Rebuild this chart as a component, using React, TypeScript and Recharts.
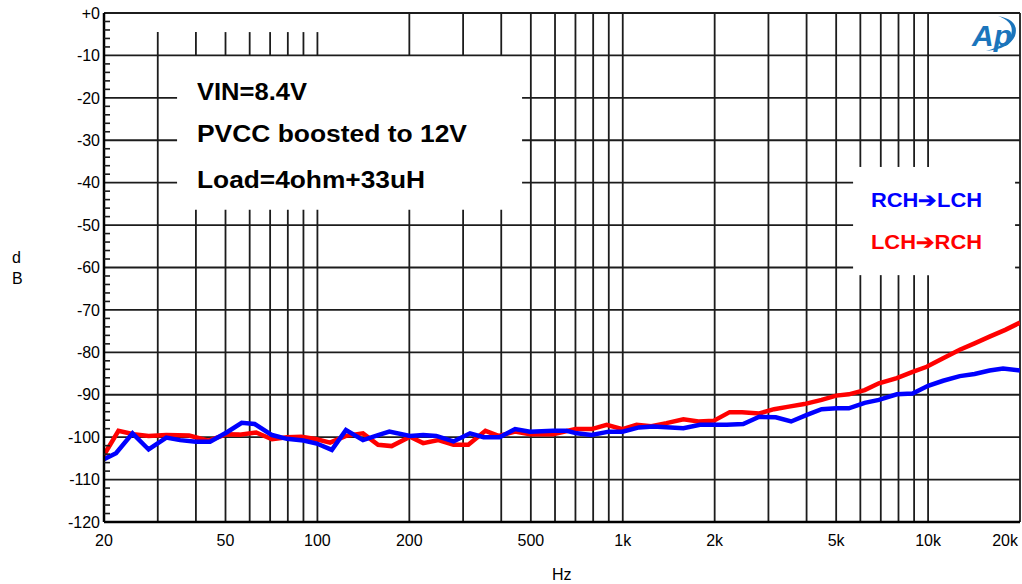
import React from 'react';
import { LineChart, Line, XAxis, YAxis, ReferenceLine } from 'recharts';

// ---------- data ----------
const redFreq = [20, 22.3, 25, 28, 32, 38, 44, 50.4, 55.6, 63, 71, 79.5, 88.6, 99.5, 110, 124, 141, 158, 175, 201, 222, 249, 279, 312, 355, 392, 444, 497, 592, 700, 791, 886, 998, 1110, 1240, 1390, 1580, 1770, 1990, 2240, 2460, 2800, 3130, 3500, 3930, 4480, 5000, 5500, 6200, 6900, 7900, 8900, 9900, 11200, 12700, 14200, 15900, 17900, 20000];
const redDb = [-104.2, -98.5, -99.3, -99.7, -99.5, -99.6, -100.8, -99.3, -99.4, -98.9, -100.5, -100.0, -99.9, -100.5, -101.3, -99.7, -99.1, -101.8, -102.1, -99.9, -101.4, -100.7, -101.8, -101.8, -98.5, -99.7, -98.7, -99.3, -99.3, -98.1, -98.1, -97.1, -98.1, -97.1, -97.4, -96.7, -95.8, -96.3, -96.1, -94.1, -94.1, -94.4, -93.4, -92.8, -92.2, -91.2, -90.2, -89.9, -88.9, -87.3, -86.1, -84.6, -83.4, -81.4, -79.4, -77.9, -76.3, -74.7, -73.0];

const blueFreq = [20, 21.9, 24.8, 28, 32, 35.5, 40, 44.5, 50.4, 56.5, 62.3, 71, 79.5, 90, 99.5, 111.5, 124, 141, 158, 172, 201, 222, 245, 279, 316, 350, 395, 444, 497, 592, 655, 707, 791, 900, 998, 1130, 1260, 1580, 1790, 2190, 2480, 2800, 3170, 3560, 3990, 4480, 5000, 5500, 6200, 6900, 7900, 8900, 10000, 11200, 12700, 14200, 15900, 17600, 20000];
const blueDb = [-105.2, -103.8, -99.1, -102.9, -100.1, -100.7, -101.1, -101.1, -98.9, -96.6, -96.9, -99.5, -100.4, -100.8, -101.5, -103.0, -98.3, -100.7, -99.5, -98.7, -99.7, -99.5, -99.7, -101.0, -99.1, -100.0, -100.0, -98.1, -98.7, -98.5, -98.5, -99.1, -99.5, -98.7, -98.7, -97.7, -97.5, -97.9, -97.1, -97.1, -96.9, -95.2, -95.3, -96.3, -94.8, -93.4, -93.2, -93.2, -91.9, -91.2, -89.9, -89.7, -87.9, -86.7, -85.6, -85.1, -84.3, -83.8, -84.3];

const xTicks = [20, 50, 100, 200, 500, 1000, 2000, 5000, 10000, 20000];
const xTickLabels = ['20', '50', '100', '200', '500', '1k', '2k', '5k', '10k', '20k'];
const yMajor = [0, -10, -20, -30, -40, -50, -60, -70, -80, -90, -100, -110, -120];
const yMajorLabels = ['+0', '-10', '-20', '-30', '-40', '-50', '-60', '-70', '-80', '-90', '-100', '-110', '-120'];
const gridFreqs = [30, 40, 50, 60, 70, 80, 90, 100, 200, 300, 400, 500, 600, 700, 800, 900, 1000, 2000, 3000, 4000, 5000, 6000, 7000, 8000, 9000, 10000, 20000];
const gridDb = [0, -10, -20, -30, -40, -50, -60, -70, -80, -90, -100, -110];

// white label boxes that interrupt the grid (freq range, dB range)
const boxes = [
  { f1: 25, f2: 110, d1: 0, d2: -4.5 },
  { f1: 34.7, f2: 468, d1: -10, d2: -46.4 },
  { f1: 5680, f2: 19270, d1: -36.3, d2: -61.8 },
];

const redData = redFreq.map((f, i) => ({ f, v: redDb[i] }));
const blueData = blueFreq.map((f, i) => ({ f, v: blueDb[i] }));
const yTicks: number[] = [];
for (let v = 0; v >= -120; v -= 2) yTicks.push(v);

const FONT = '"Liberation Sans", Arial, Helvetica, sans-serif';
const GRID = '#1c1c1c';

function cut(lo: number, hi: number, cuts: [number, number][]): [number, number][] {
  let segs: [number, number][] = [[lo, hi]];
  for (const [a, b] of cuts) {
    const next: [number, number][] = [];
    for (const [s, e] of segs) {
      if (b <= s || a >= e) { next.push([s, e]); continue; }
      if (a > s) next.push([s, a]);
      if (b < e) next.push([b, e]);
    }
    segs = next;
  }
  return segs;
}

const vSegs: { f: number; a: number; b: number }[] = [];
gridFreqs.forEach((f) => {
  const cs = boxes.filter((bx) => f > bx.f1 && f < bx.f2).map((bx) => [bx.d2, bx.d1] as [number, number]);
  cut(-120, 0, cs).forEach(([a, b]) => vSegs.push({ f, a, b }));
});
const hSegs: { d: number; a: number; b: number }[] = [];
gridDb.forEach((d) => {
  const cs = boxes.filter((bx) => d < bx.d1 && d > bx.d2).map((bx) => [bx.f1, bx.f2] as [number, number]);
  cut(20, 20000, cs).forEach(([a, b]) => hSegs.push({ d, a, b }));
});

const YTick = (props: any) => {
  const { x, y, payload } = props;
  const v = payload.value as number;
  const idx = yMajor.indexOf(v);
  if (idx >= 0) {
    return (
      <text x={x} y={y} dy="0.355em" textAnchor="end" fontSize={16} fontFamily={FONT} fill="#000">
        {yMajorLabels[idx]}
      </text>
    );
  }
  const ax = x + 4;
  return <line x1={ax} x2={ax + 6} y1={y} y2={y} stroke={GRID} strokeWidth={1.6} />;
};

const XTick = (props: any) => {
  const { x, y, payload } = props;
  const idx = xTicks.indexOf(payload.value);
  const last = idx === xTicks.length - 1;
  return (
    <text
      x={last ? x - 2 : x}
      y={y}
      dy="0.71em"
      textAnchor={last ? 'end' : 'middle'}
      fontSize={16}
      fontFamily={FONT}
      fill="#000"
    >
      {xTickLabels[idx]}
    </text>
  );
};

export default function App() {
  return (
    <div style={{ position: 'absolute', left: 0, top: 0, width: 1022, height: 584, background: '#fff' }}>
      <LineChart width={1022} height={584} margin={{ top: 13, right: 2, bottom: 0, left: 0 }}>
        <XAxis
          dataKey="f"
          type="number"
          scale="log"
          domain={[20, 20000]}
          allowDataOverflow
          ticks={xTicks}
          interval={0}
          tickSize={0}
          tickMargin={13}
          height={62}
          tick={<XTick />}
          axisLine={{ stroke: '#000', strokeWidth: 2.5 }}
          tickLine={false}
        />
        <YAxis
          type="number"
          domain={[-120, 0]}
          allowDataOverflow
          ticks={yTicks}
          interval={0}
          width={104}
          tickSize={0}
          tickMargin={4}
          tick={<YTick />}
          axisLine={{ stroke: '#000', strokeWidth: 2.5 }}
          tickLine={false}
        />
        {vSegs.map((s, i) => (
          <ReferenceLine
            key={'v' + i}
            segment={[{ x: s.f, y: s.a }, { x: s.f, y: s.b }]}
            stroke={GRID}
            strokeWidth={1.8}
            ifOverflow="visible"
          />
        ))}
        {hSegs.map((s, i) => (
          <ReferenceLine
            key={'h' + i}
            segment={[{ x: s.a, y: s.d }, { x: s.b, y: s.d }]}
            stroke={GRID}
            strokeWidth={1.8}
            ifOverflow="visible"
          />
        ))}
        <Line data={redData} dataKey="v" stroke="#ff0000" strokeWidth={4.5} dot={false} isAnimationActive={false} />
        <Line data={blueData} dataKey="v" stroke="#0000ff" strokeWidth={4.5} dot={false} isAnimationActive={false} />
      </LineChart>
      <svg width={1022} height={584} style={{ position: 'absolute', left: 0, top: 0, pointerEvents: 'none' }}>
        <text x={12} y={263} fontSize={16} fontFamily={FONT} fill="#000">d</text>
        <text x={12} y={284} fontSize={16} fontFamily={FONT} fill="#000">B</text>
        <text x={552} y={580} fontSize={16} fontFamily={FONT} fill="#000">Hz</text>
        <g fontFamily={FONT} fontWeight="bold" fill="#000">
          <text x={197} y={100} fontSize={24} textLength={110} lengthAdjust="spacingAndGlyphs">VIN=8.4V</text>
          <text x={197} y={142} fontSize={23} textLength={270} lengthAdjust="spacingAndGlyphs">PVCC boosted to 12V</text>
          <text x={197} y={188} fontSize={23} textLength={228} lengthAdjust="spacingAndGlyphs">Load=4ohm+33uH</text>
        </g>
        <g fontFamily={FONT} fontWeight="bold" fontSize={20}>
          <text x={871} y={207} fill="#0000ff" textLength={111} lengthAdjust="spacingAndGlyphs">RCH➔LCH</text>
          <text x={871} y={249} fill="#ff0000" textLength={111} lengthAdjust="spacingAndGlyphs">LCH➔RCH</text>
        </g>
        <g>
          <path d="M 998 16 Q 1020 20 1015 36 Q 1009 49 986 51 Q 1007 45 1011 35 Q 1015 22 998 16 Z" fill="#1b75bc" />
          <text x={972} y={46} fontFamily={FONT} fontStyle="italic" fontWeight="bold" fontSize={30} fill="#1b75bc">Ap</text>
        </g>
      </svg>
    </div>
  );
}
